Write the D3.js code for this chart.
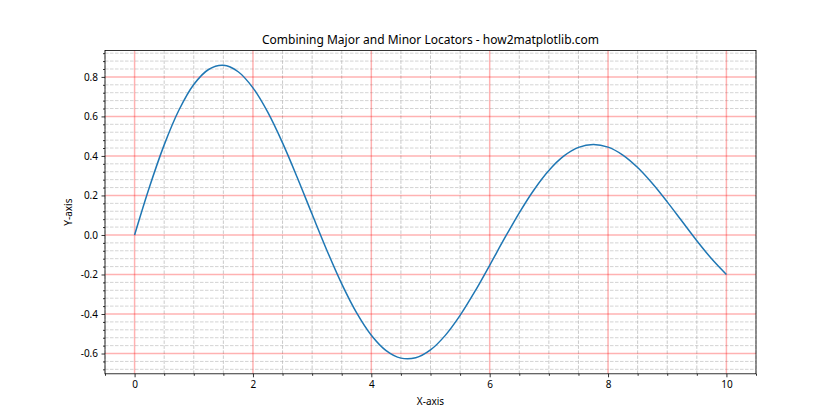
<!DOCTYPE html>
<html><head><meta charset="utf-8">
<script src="https://cdn.jsdelivr.net/npm/d3@7"></script>
<style>body{margin:0;background:#fff}svg{display:block}text{font-family:"Noto Sans","DejaVu Sans",sans-serif}</style>
</head><body><svg id="c" width="840" height="420"></svg>
<script>
const xValues = [0,0.25,0.5,0.75,1,1.25,1.5,1.75,2,2.25,2.5,2.75,3,3.25,3.5,3.75,4,4.25,4.5,4.75,5,5.25,5.5,5.75,6,6.25,6.5,6.75,7,7.25,7.5,7.75,8,8.25,8.5,8.75,9,9.25,9.5,9.75,10];
const yValues = [0,0.2413,0.4560,0.6323,0.7614,0.8375,0.8585,0.8261,0.7445,0.6213,0.4661,0.2899,0.1045,-0.0782,-0.2472,-0.3929,-0.5073,-0.5851,-0.6233,-0.6215,-0.5816,-0.5081,-0.4070,-0.2860,-0.1533,-0.0178,0.1123,0.2291,0.3263,0.3986,0.4431,0.4582,0.4445,0.4044,0.3413,0.2604,0.1676,0.0691,-0.0291,-0.1205,-0.2001];
const xMajorTicks = [0,2,4,6,8,10];
const yMajorTicks = [-0.6,-0.4,-0.2,0.0,0.2,0.4,0.6,0.8];
const xTickLabels = ["0","2","4","6","8","10"];
const yTickLabels = ["-0.6","-0.4","-0.2","0.0","0.2","0.4","0.6","0.8"];
const titleText = "Combining Major and Minor Locators - how2matplotlib.com";

const L=105, R=756, T=50.4, B=373.8;
const svg=d3.select("#c");
const x=d3.scaleLinear().domain([-0.5,10.5]).range([L,R]);
const y=d3.scaleLinear().domain([-0.7026,0.9341]).range([B,T]);

const xMinor=d3.range(-1,22).map(i=>i*0.5).filter(v=>v>=-0.5&&v<=10.5&&Math.abs(v/2-Math.round(v/2))>1e-6);
const yMinor=d3.range(-20,25).map(i=>+(i*0.04).toFixed(2)).filter(v=>v>=-0.7026&&v<=0.9341&&Math.abs(v/0.2-Math.round(v/0.2))>1e-6);

const g=svg.append("g");
// minor grid
g.selectAll(".mgx").data(xMinor).join("line").attr("x1",d=>x(d)).attr("x2",d=>x(d)).attr("y1",T).attr("y2",B)
 .attr("stroke","#a8a8a8").attr("stroke-opacity",0.6).attr("stroke-width",1).attr("stroke-dasharray","3.5,1.5");
g.selectAll(".mgy").data(yMinor).join("line").attr("y1",d=>y(d)).attr("y2",d=>y(d)).attr("x1",L).attr("x2",R)
 .attr("stroke","#b0b0b0").attr("stroke-opacity",0.55).attr("stroke-width",1).attr("stroke-dasharray","3.5,1.5");
// major grid
g.selectAll(".Mgx").data(xMajorTicks).join("line").attr("x1",d=>x(d)).attr("x2",d=>x(d)).attr("y1",T).attr("y2",B)
 .attr("stroke","red").attr("stroke-opacity",0.3).attr("stroke-width",1.5);
g.selectAll(".Mgy").data(yMajorTicks).join("line").attr("y1",d=>y(d)).attr("y2",d=>y(d)).attr("x1",L).attr("x2",R)
 .attr("stroke","red").attr("stroke-opacity",0.3).attr("stroke-width",1.5);

// line
const pts=xValues.map((v,i)=>[v,yValues[i]]);
svg.append("path").datum(pts).attr("fill","none").attr("stroke","#1f77b4").attr("stroke-width",1.5)
 .attr("d",d3.line().x(d=>x(d[0])).y(d=>y(d[1])).curve(d3.curveCatmullRom));

// axes
const xAx=svg.append("g").attr("transform",`translate(0,${B})`)
 .call(d3.axisBottom(x).tickValues(xMajorTicks).tickFormat((d,i)=>xTickLabels[i]).tickSize(3.5).tickPadding(3.5));
const xAxm=svg.append("g").attr("transform",`translate(0,${B})`)
 .call(d3.axisBottom(x).tickValues(xMinor).tickFormat("").tickSize(2));
const yAx=svg.append("g").attr("transform",`translate(${L},0)`)
 .call(d3.axisLeft(y).tickValues(yMajorTicks).tickFormat((d,i)=>yTickLabels[i]).tickSize(3.5).tickPadding(3.5));
const yAxm=svg.append("g").attr("transform",`translate(${L},0)`)
 .call(d3.axisLeft(y).tickValues(yMinor).tickFormat("").tickSize(2));
[xAx,xAxm,yAx,yAxm].forEach(a=>{a.select(".domain").remove();a.selectAll("line").attr("stroke","#000").attr("stroke-width",0.8);
 a.selectAll("text").attr("font-size",10).attr("fill","#000").attr("font-family","'Noto Sans','DejaVu Sans',sans-serif");});
// spines
svg.append("rect").attr("x",L).attr("y",T).attr("width",R-L).attr("height",B-T).attr("fill","none").attr("stroke","#000").attr("stroke-width",0.8);

svg.append("text").attr("x",(L+R)/2).attr("y",T-6).attr("text-anchor","middle").attr("font-size",12).text(titleText);
svg.append("text").attr("x",(L+R)/2).attr("y",405).attr("text-anchor","middle").attr("font-size",10).text("X-axis");
svg.append("text").attr("transform",`translate(72,${(T+B)/2}) rotate(-90)`).attr("text-anchor","middle").attr("font-size",10).text("Y-axis");
</script></body></html>
